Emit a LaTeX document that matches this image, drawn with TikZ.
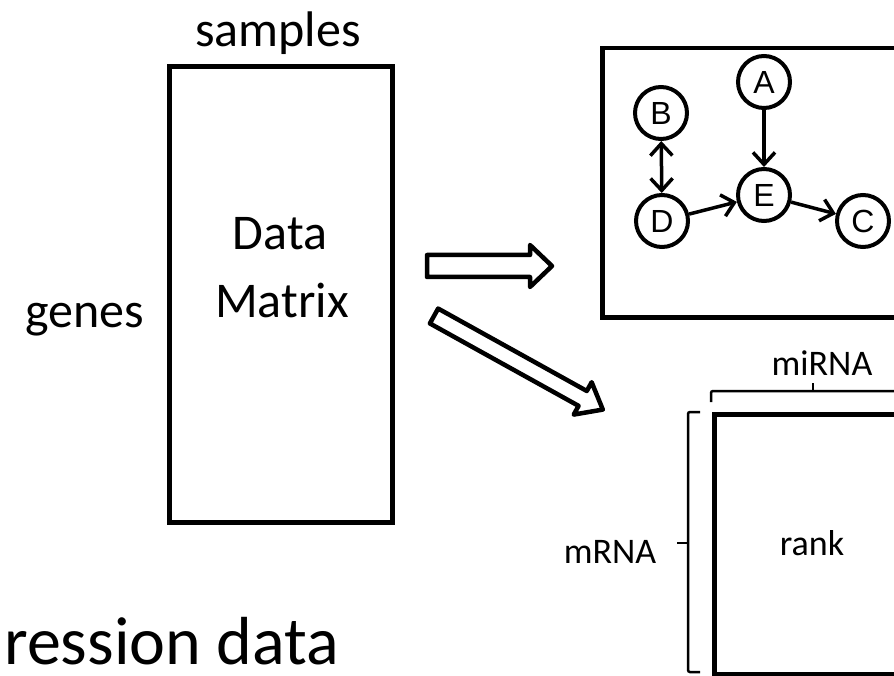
\documentclass[tikz,border=0pt]{standalone}
\usepackage{fontspec}
\setmainfont{Carlito}
\newfontfamily\arialfont{Liberation Sans}
\usetikzlibrary{arrows.meta}
\tikzset{barb/.tip={Straight Barb[length=12pt,width=22pt]}}
\begin{document}
\begin{tikzpicture}[x=1pt,y=-1pt,
  big/.style={font=\fontsize{50}{60}\selectfont, inner sep=0pt, anchor=base},
  title/.style={font=\fontsize{68}{82}\selectfont, inner sep=0pt, anchor=base west},
  small/.style={font=\fontsize{36}{43}\selectfont, inner sep=0pt, anchor=base},
  panel/.style={draw, line width=4.5pt, inner sep=0pt},
  vertex/.style={circle, draw, line width=4pt, minimum size=52pt, inner sep=0pt,
    font=\arialfont\fontsize{32}{38}\selectfont},
  edge/.style={line width=3.5pt, -barb},
  biedge/.style={line width=3.5pt, barb-barb},
  brace/.style={line width=2.5pt, rounded corners=2pt},
  blockarrow/.style={draw, line width=4.5pt, line join=round, fill=white}
]
\clip (0,0) rectangle (894,676);
\fill[white] (0,0) rectangle (894,676);

% data matrix with its axis labels
\node[panel, line width=5pt, minimum width=223pt, minimum height=455pt] (matrix) at (280.5,294.5) {};
\node[big] (data) at (280,250) {Data};
\node[big] (mtx) at (282,317) {Matrix};
\node[big] (samples) at (278,47) {samples};
\node[big] (genes) at (85,327) {genes};
\node[title] (expr) at (4,664) {ression data};

% block arrows
\coordinate (h0) at (427,265.5);
\draw[blockarrow] (h0) ++(0,-10.5) -- ++(103,0) -- ++(0,-10) -- ++(22,21) -- ++(-22,21)
  -- ++(0,-10) -- ++(-103,0) -- cycle;
\coordinate (d0) at (434,316);
\begin{scope}[shift={(d0)}, rotate=-29]
  \draw[blockarrow] (0,-8.5) -- (170,-8.5) -- (170,-18.5) -- (193,0) -- (170,18.5)
    -- (170,8.5) -- (0,8.5) -- cycle;
\end{scope}

% network panel
\node[panel, anchor=north west, minimum width=360pt, minimum height=269pt] (netpanel) at (600,46) {};
\node[vertex] (A) at (764,82) {A};
\node[vertex] (B) at (661,113) {B};
\node[vertex] (D) at (662,221) {D};
\node[vertex] (E) at (764,195) {E};
\node[vertex] (C) at (863,221) {C};
\draw[edge] (A) -- (E);
\draw[edge] (D) -- (E);
\draw[edge] (E) -- (C);
\draw[biedge] (B) -- (D);

% rank matrix with braces
\node[panel, anchor=north west, minimum width=300pt, minimum height=260pt] (rankbox) at (712,412) {};
\node[small] (rank) at (812,555) {rank};
\draw[brace] (711,402) -- (711,391) -- (915,391) -- (915,402);
\coordinate (topmid) at (813,391);
\draw[brace] (topmid) -- ++(0,-8);
\node[small] (mirna) at (822,375) {miRNA};
\draw[brace] (700,412) -- (688,412) -- (688,672) -- (700,672);
\coordinate (leftmid) at (688,543);
\draw[brace] (leftmid) -- ++(-11,0);
\node[small] (mrna) at (610,563) {mRNA};
\end{tikzpicture}
\end{document}
